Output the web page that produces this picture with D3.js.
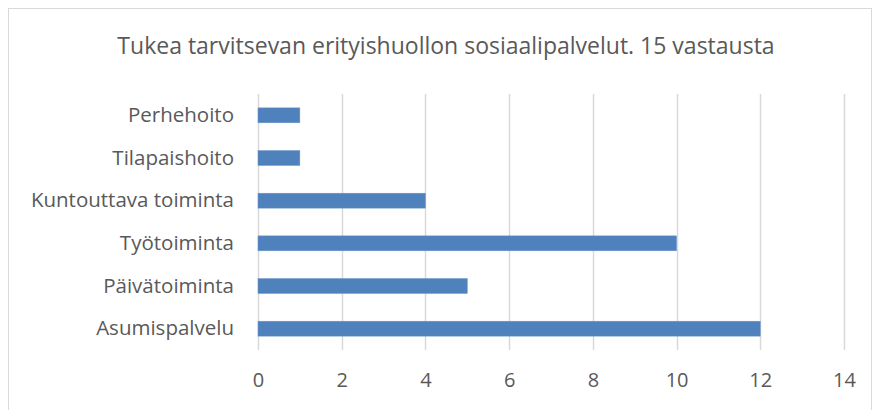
<!DOCTYPE html>
<html>
<head>
<meta charset="utf-8">
<script src="https://cdn.jsdelivr.net/npm/d3@7"></script>
<style>
  body { margin: 0; background: #fff; }
  text { font-family: "Open Sans", "Noto Sans", sans-serif; fill: #595959; }
</style>
</head>
<body>
<div class="canvas"></div>
<script>
const title = 'Tukea tarvitsevan erityishuollon sosiaalipalvelut. 15 vastausta';
const categories = ['Perhehoito', 'Tilapaishoito', 'Kuntouttava toiminta', 'Työtoiminta', 'Päivätoiminta', 'Asumispalvelu'];
const values = [1, 1, 4, 10, 5, 12];
const ticks = [0, 2, 4, 6, 8, 10, 12, 14];

const width = 874;
const height = 410;
const margin = {top: 94, right: 30, bottom: 60, left: 258};
const graphWidth = 844 - margin.left;
const graphHeight = 350 - margin.top;

const svg = d3.select('.canvas')
    .append('svg')
    .attr('width', width)
    .attr('height', height);

// chart frame
svg.append('rect')
    .attr('x', 8.5)
    .attr('y', 8.5)
    .attr('width', 863)
    .attr('height', 410)
    .attr('fill', 'none')
    .attr('stroke', '#d9d9d9');

svg.append('text')
    .attr('x', 446)
    .attr('y', 54)
    .attr('text-anchor', 'middle')
    .style('font-size', '23px')
    .text(title);

const graph = svg.append('g')
    .attr('transform', `translate(${margin.left}, ${margin.top})`);

const x = d3.scaleLinear().domain([0, 14]).range([0, graphWidth]);
const y = d3.scaleBand().domain(categories).range([0, graphHeight]).paddingInner(0.65).paddingOuter(0.325);

// gridlines
graph.selectAll('line.grid')
    .data(ticks)
    .enter()
    .append('line')
    .attr('class', 'grid')
    .attr('x1', d => Math.round(x(d)) + 0.5)
    .attr('x2', d => Math.round(x(d)) + 0.5)
    .attr('y1', 0)
    .attr('y2', graphHeight)
    .attr('stroke', '#d9d9d9')
    .attr('stroke-width', 1.5);

graph.selectAll('rect.bar')
    .data(values)
    .enter()
    .append('rect')
    .attr('class', 'bar')
    .attr('x', x(0))
    .attr('y', (d, i) => y(categories[i]))
    .attr('width', d => x(d) - x(0))
    .attr('height', y.bandwidth())
    .attr('fill', '#4f81bd')
    .attr('stroke', '#6a95c9')
    .attr('stroke-width', 0.5);

const xAxis = d3.axisBottom(x).tickValues(ticks).tickSize(0).tickPadding(0);
const xAxisGroup = graph.append('g')
    .attr('transform', `translate(0, ${graphHeight + 23})`)
    .call(xAxis);
xAxisGroup.select('.domain').remove();
xAxisGroup.selectAll('text')
    .attr('dy', '0.71em')
    .style('font-size', '20px')
    .attr('fill', '#595959');

const yAxis = d3.axisLeft(y).tickSize(0).tickPadding(24);
const yAxisGroup = graph.append('g').call(yAxis);
yAxisGroup.select('.domain').remove();
yAxisGroup.selectAll('text')
    .style('font-size', '20.5px')
    .attr('fill', '#595959');
</script>
</body>
</html>
